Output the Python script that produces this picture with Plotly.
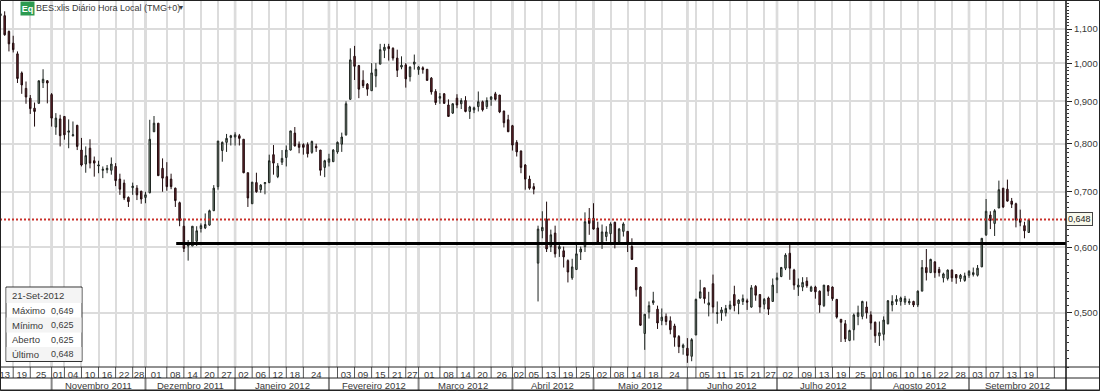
import plotly.graph_objects as go

high = [1.159,1.156,1.096,1.080,1.034,.978,.951,.916,.897,.953,
.984,.955,.921,.871,.867,.864,.856,.851,.843,.813,
.794,.810,.772,.763,.751,.754,.770,.758,.736,.724,
.691,.718,.713,.702,.700,.855,.864,.847,.768,.760,
.736,.708,.681,.650,.612,.636,.636,.641,.659,.666,
.713,.806,.805,.822,.820,.826,.822,.810,.738,.719,
.738,.715,.718,.776,.797,.758,.786,.796,.829,.838,
.805,.801,.803,.807,.800,.786,.765,.778,.788,.805,
.825,.900,1.043,1.050,.996,.981,.947,1.001,1.001,1.056,
1.056,1.056,1.046,1.039,1.020,1.001,.992,1.025,.993,.992,
.984,.963,.931,.921,.921,.905,.895,.918,.908,.913,
.889,.887,.925,.902,.910,.913,.924,.916,.877,.867,
.843,.808,.785,.756,.732,.717,.637,.663,.681,.630,
.637,.605,.601,.580,.581,.604,.601,.661,.669,.678,
.644,.639,.636,.643,.644,.633,.643,.627,.615,.567,
.538,.498,.516,.530,.510,.506,.499,.495,.485,.470,
.459,.466,.466,.520,.548,.536,.530,.556,.516,.508,
.511,.517,.539,.519,.526,.520,.540,.540,.526,.521,
.523,.550,.559,.568,.590,.608,.565,.550,.552,.552,
.539,.539,.532,.540,.540,.538,.519,.491,.490,.477,
.499,.510,.517,.516,.502,.488,.488,.495,.518,.525,
.525,.523,.524,.520,.517,.532,.579,.597,.581,.577,
.568,.559,.564,.564,.556,.557,.559,.563,.567,.571,
.615,.686,.663,.667,.722,.707,.724,.688,.679,.666,.644,.649]

open_ = [1.142,1.142,1.093,1.058,1.027,.974,.933,.908,.883,.895,
.948,.953,.917,.838,.857,.863,.826,.818,.842,.786,
.756,.790,.763,.752,.743,.744,.743,.751,.725,.717,
.689,.708,.707,.701,.689,.698,.827,.847,.747,.730,
.725,.707,.679,.636,.602,.602,.610,.632,.633,.638,
.664,.710,.785,.803,.814,.815,.818,.810,.738,.677,
.718,.704,.716,.718,.776,.730,.760,.770,.786,.824,
.799,.798,.798,.781,.794,.786,.749,.760,.761,.782,
.799,.820,.905,1.020,.994,.954,.944,.927,.966,.998,
1.037,1.048,1.043,1.015,.990,.996,.964,.998,.983,.988,
.984,.960,.925,.908,.919,.891,.871,.908,.894,.902,
.875,.879,.887,.899,.887,.905,.919,.916,.876,.855,
.841,.803,.784,.754,.725,.710,.574,.628,.649,.601,
.624,.597,.594,.578,.551,.564,.592,.601,.650,.650,
.633,.609,.618,.623,.643,.609,.627,.627,.601,.567,
.537,.472,.501,.514,.505,.489,.495,.489,.482,.468,
.454,.453,.443,.470,.521,.536,.511,.542,.499,.500,
.500,.506,.526,.513,.516,.517,.508,.538,.526,.512,
.521,.516,.548,.553,.566,.590,.563,.537,.537,.546,
.531,.537,.531,.510,.539,.537,.519,.491,.485,.463,
.477,.495,.495,.508,.497,.487,.469,.471,.485,.511,
.516,.516,.515,.514,.516,.511,.531,.567,.559,.576,
.564,.551,.550,.563,.556,.550,.547,.555,.556,.555,
.568,.621,.656,.641,.669,.707,.705,.682,.677,.649,.637,.625]

close = [1.148,1.083,1.056,1.039,.959,.942,.911,.882,.875,.953,
.957,.947,.859,.859,.818,.820,.829,.820,.794,.754,
.774,.758,.758,.754,.745,.747,.756,.722,.705,.688,
.681,.711,.694,.686,.694,.810,.847,.732,.727,.710,
.710,.683,.646,.598,.605,.636,.628,.637,.639,.664,
.707,.806,.803,.812,.818,.820,.812,.738,.688,.719,
.700,.713,.718,.763,.758,.752,.768,.786,.829,.795,
.792,.792,.778,.805,.791,.743,.763,.767,.786,.803,
.815,.894,1.010,.992,.931,.940,.931,.974,.984,1.039,
1.046,1.042,1.015,.981,.995,.958,.990,1.004,.990,.983,
.954,.924,.897,.912,.895,.863,.894,.891,.902,.875,
.886,.884,.899,.879,.902,.911,.905,.874,.848,.827,
.797,.782,.749,.725,.707,.705,.631,.634,.597,.621,
.589,.601,.584,.560,.568,.589,.597,.644,.641,.631,
.608,.626,.626,.640,.607,.631,.640,.607,.580,.533,
.483,.498,.510,.517,.486,.494,.488,.477,.467,.455,
.457,.444,.464,.519,.530,.520,.514,.508,.500,.504,
.506,.511,.510,.518,.520,.515,.536,.525,.508,.519,
.505,.540,.551,.567,.587,.566,.540,.540,.544,.539,
.537,.530,.511,.540,.531,.520,.494,.487,.465,.476,
.497,.500,.516,.500,.486,.469,.473,.490,.517,.516,
.519,.521,.520,.516,.511,.531,.567,.559,.580,.559,
.559,.557,.563,.551,.551,.555,.554,.561,.559,.566,
.615,.663,.646,.664,.704,.671,.682,.676,.647,.643,.628,.648]

low = [1.134,1.080,1.034,1.031,.947,.919,.894,.869,.839,.895,
.934,.895,.839,.820,.794,.809,.790,.816,.786,.751,
.738,.747,.730,.737,.727,.737,.734,.711,.694,.684,
.671,.694,.684,.677,.678,.697,.827,.732,.700,.702,
.705,.671,.636,.592,.578,.602,.602,.625,.631,.637,
.664,.704,.761,.782,.796,.796,.796,.737,.671,.677,
.698,.698,.695,.717,.734,.727,.754,.751,.785,.794,
.779,.776,.770,.778,.782,.732,.729,.751,.761,.778,
.782,.818,.905,.955,.908,.934,.914,.927,.936,.998,
1.015,1.008,1.008,.963,.984,.935,.951,.983,.969,.972,
.954,.917,.891,.894,.894,.863,.869,.883,.881,.873,
.857,.871,.875,.875,.881,.889,.902,.871,.837,.827,
.785,.772,.737,.704,.704,.695,.516,.615,.592,.592,
.583,.584,.567,.544,.548,.563,.579,.592,.621,.630,
.607,.597,.610,.607,.598,.607,.618,.592,.579,.523,
.482,.451,.492,.511,.478,.483,.483,.471,.455,.447,
.445,.435,.437,.470,.520,.513,.495,.499,.485,.489,
.495,.504,.502,.498,.511,.504,.507,.517,.500,.505,
.497,.516,.528,.552,.563,.548,.533,.524,.531,.536,
.530,.520,.500,.508,.524,.517,.492,.461,.461,.462,
.463,.483,.491,.492,.477,.460,.456,.463,.484,.502,
.511,.510,.511,.511,.508,.508,.531,.547,.559,.551,
.553,.544,.547,.545,.542,.545,.545,.551,.553,.553,
.568,.619,.631,.619,.669,.669,.681,.669,.634,.636,.615,.625]

bar_index = list(range(len(close)))

# vertical grid lines sit on these bars; each date label fills the cell that ends at the next one
grid_bars = [3,7,12,15,19,23,27,31,34,39,43,47,51,55,59,63,67,71,77,79,83,87,91,95,98,103,107,111,115,120,
             123,127,131,135,139,143,147,151,155,161,163,167,171,175,179,182,187,191,195,199,204,207,211,215,
             219,223,227,231,235,239,243,247]
date_labels = ["13","19","25","01","04","10","16","22","28","01","08","14","20","27","02","06","12","18","24","",
               "03","09","15","21","27","01","08","14","20","26","02","05","13","19","25","02","08","14","18","24","",
               "05","11","15","21","27","02","09","13","19","25","01","06","10","16","22","28","03","07","13","19","",""]
month_bars = [12,34,55,77,98,120,139,161,182,204,227]
month_labels = ["Novembro 2011","Dezembro 2011","Janeiro 2012","Fevereiro 2012","Março 2012","Abril 2012",
                "Maio 2012","Junho 2012","Julho 2012","Agosto 2012","Setembro 2012"]
month_centers = [22.9,44.5,66.2,87.5,108.4,129.5,149.9,171.5,192.8,215.5,238.3]

y_ticks = [0.5,0.6,0.7,0.8,0.9,1.0,1.1]
y_ticktext = ["0,500","0,600","0,700","0,800","0,900","1,000","1,100"]
y_minor = [round(0.43+0.01*i,2) for i in range(77)]

support_level = 0.606
last_price = 0.648
support_x = [41.2, 249.7]
info_labels = ["Máximo","Mínimo","Aberto","Último"]
info_values = ["0,649","0,625","0,625","0,648"]
info_date = "21-Set-2012"

W, H = 1100, 391
ML, MR, MT, MB = 0, 34, 0, 24
PW, PH = W-ML-MR, H-MT-MB
def px(x): return x/PW
def py(y): return 1-y/PH

FONT = "Liberation Sans"
TXT = "#3a3a3a"

fig = go.Figure()
fig.add_trace(go.Candlestick(
    x=bar_index, open=open_, high=high, low=low, close=close,
    increasing=dict(line=dict(color="#1e2420", width=1), fillcolor="#8aa08f"),
    decreasing=dict(line=dict(color="#200c0e", width=1), fillcolor="#6e2630"),
    whiskerwidth=0, showlegend=False, hoverinfo="skip"))
fig.add_trace(go.Scatter(x=[-0.094,249.73], y=[last_price,last_price], mode="lines",
    line=dict(color="#c9302a", width=2, dash="2px,2px"), showlegend=False, hoverinfo="skip"))
fig.add_trace(go.Scatter(x=support_x, y=[support_level,support_level], mode="lines",
    line=dict(color="#000000", width=3), showlegend=False, hoverinfo="skip"))

shapes = []
for b in month_bars:
    shapes.append(dict(type="line", xref="x", yref="paper", x0=b, x1=b, y0=0, y1=1,
                       line=dict(color="#cfcfcf", width=2.5), layer="below"))
# date strip
y_strip_mid = py(378); y_strip_bot = py(390)
for b in grid_bars:
    shapes.append(dict(type="line", xref="x", yref="paper", x0=b, x1=b, y0=0, y1=y_strip_mid,
                       line=dict(color="#555555", width=1)))
for b in month_bars:
    shapes.append(dict(type="line", xref="x", yref="paper", x0=b, x1=b, y0=y_strip_mid, y1=y_strip_bot,
                       line=dict(color="#888888", width=2)))
for yy in (0, y_strip_mid, y_strip_bot):
    shapes.append(dict(type="line", xref="paper", yref="paper", x0=0, x1=W/PW, y0=yy, y1=yy,
                       line=dict(color="#222222", width=1)))
shapes.append(dict(type="line", xref="paper", yref="paper", x0=1, x1=1, y0=y_strip_bot, y1=1,
                   line=dict(color="#111111", width=1.5)))
# outer frame
shapes.append(dict(type="rect", xref="paper", yref="paper", x0=px(0.5), x1=px(1099.5), y0=py(390.5), y1=py(0.5),
                   line=dict(color="#222222", width=1)))
# information box
shapes.append(dict(type="rect", xref="paper", yref="paper", x0=px(6), x1=px(82), y0=py(361.5), y1=py(287),
                   fillcolor="#ffffff", line=dict(color="#333333", width=1)))
for top, bot in ((288,303),(317.5,332.5),(347,361)):
    shapes.append(dict(type="rect", xref="paper", yref="paper", x0=px(6.5), x1=px(81.5), y0=py(bot), y1=py(top),
                       fillcolor="#f4f4f4", line=dict(width=0)))

ann = []
def text(x, y, s, size=9, anchor="center", color=TXT, **kw):
    ann.append(dict(xref="paper", yref="paper", x=px(x), y=py(y), text=s, showarrow=False, xanchor=anchor,
                    yanchor="middle", font=dict(family=FONT, size=size, color=color), **kw))
for c, m in zip(month_centers, month_labels):
    ann.append(dict(xref="x", yref="paper", x=c, y=py(385), text=m, showarrow=False, xanchor="center", yanchor="middle",
                    font=dict(family=FONT, size=9.5, color=TXT)))
ann.append(dict(xref="paper", yref="paper", x=px(27.5), y=py(8.5), text="<b>Eq</b>", showarrow=False,
                xanchor="center", yanchor="middle",
                bgcolor="#2c9a50", width=13, height=13, borderpad=0,
                font=dict(family=FONT, size=9, color="#ffffff")))
text(33.5, 8.5, "BES:xlis Diário Hora Local (TMG+0)", size=9, anchor="left")
text(177, 7.5, "▾", size=8, anchor="left")
ann.append(dict(xref="paper", yref="y", x=px(1066), y=-0.1884, text=info_values[3], showarrow=False, xanchor="left",
                yanchor="middle", bgcolor="#f9f9ec", bordercolor="#444444", borderwidth=1, borderpad=1,
                font=dict(family=FONT, size=9, color="#222222")))
text(9.5, 295, info_date, anchor="left", size=9.5)
for yy, lab, val in zip((310.5,325,339.7,354), info_labels, info_values):
    text(9.5, yy, lab, anchor="left", size=9.5)
    text(76, yy, val, anchor="right", size=9)

mids = []
edges = [-1] + grid_bars
for a, b in zip(edges[:-1], edges[1:]):
    mids.append((a+b)/2)
mids.append((grid_bars[-1]+249.7)/2)

fig.update_layout(
    width=W, height=H, margin=dict(l=ML, r=MR, t=MT, b=MB, pad=0, autoexpand=False),
    paper_bgcolor="#ffffff", plot_bgcolor="#ffffff", showlegend=False,
    shapes=shapes, annotations=ann, boxgap=0.5,
    xaxis=dict(range=[-0.094, 249.73], rangeslider=dict(visible=False), showgrid=False, zeroline=False,
               showline=False, ticks="", tickmode="array", tickvals=mids, ticktext=date_labels,
               tickangle=0, ticklabelstandoff=0, ticklabeloverflow="allow",
               tickfont=dict(family=FONT, size=9.5, color=TXT),
               minor=dict(tickmode="array", tickvals=grid_bars, showgrid=True, gridcolor="#dcdcdc", gridwidth=1.5, ticks="")),
    yaxis=dict(type="log", side="right", range=[-0.3665, 0.0766], tickmode="array", tickvals=y_ticks, ticktext=y_ticktext,
               showgrid=True, gridcolor="#dcdcdc", gridwidth=1.5, zeroline=False, showline=False,
               ticks="outside", ticklen=5, tickcolor="#222222", tickwidth=1,
               tickfont=dict(family=FONT, size=9.5, color=TXT),
               minor=dict(tickmode="array", tickvals=y_minor, ticks="outside", ticklen=2, tickcolor="#333333", tickwidth=1, showgrid=False)),
)

fig.write_html("out.html", config={"displayModeBar": False},
               post_script="document.body.style.margin='0';document.body.style.overflow='hidden';")
